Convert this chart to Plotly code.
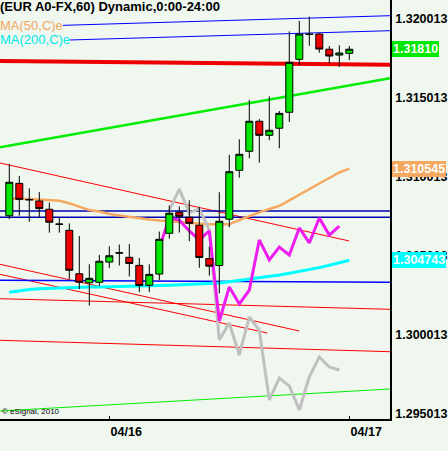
import plotly.graph_objects as go

# ---------------- data ----------------
candle_idx = list(range(35))
opens = [1.30756, 1.30961, 1.30859, 1.30849, 1.30797, 1.30704, 1.30664, 1.30389, 1.30332, 1.30335,
         1.30463, 1.30522, 1.30493, 1.30442, 1.30316, 1.30387, 1.30645, 1.30778, 1.30746, 1.30696,
         1.30485, 1.30441, 1.30734, 1.31044, 1.31164, 1.31354, 1.31265, 1.31310, 1.31411, 1.31746,
         1.31906, 1.31906, 1.31810, 1.31773, 1.31784]
highs = [1.31082, 1.31008, 1.30930, 1.30906, 1.30839, 1.30744, 1.30708, 1.30628, 1.30449, 1.30508,
         1.30563, 1.30574, 1.30577, 1.30489, 1.30449, 1.30656, 1.30821, 1.30815, 1.30854, 1.30813,
         1.30560, 1.30905, 1.31141, 1.31240, 1.31489, 1.31368, 1.31512, 1.31419, 1.31923, 1.31989,
         1.32016, 1.31913, 1.31830, 1.31835, 1.31830]
lows = [1.30734, 1.30756, 1.30718, 1.30746, 1.30649, 1.30649, 1.30356, 1.30291, 1.30187, 1.30311,
        1.30425, 1.30441, 1.30372, 1.30273, 1.30273, 1.30349, 1.30612, 1.30650, 1.30595, 1.30427,
        1.30377, 1.30265, 1.30683, 1.30997, 1.31120, 1.31092, 1.31234, 1.31183, 1.31349, 1.31710,
        1.31832, 1.31788, 1.31721, 1.31699, 1.31742]
closes = [1.30968, 1.30860, 1.30857, 1.30801, 1.30715, 1.30702, 1.30411, 1.30335, 1.30360, 1.30468,
          1.30503, 1.30520, 1.30454, 1.30315, 1.30385, 1.30607, 1.30772, 1.30753, 1.30708, 1.30492,
          1.30437, 1.30721, 1.31035, 1.31145, 1.31354, 1.31265, 1.31297, 1.31404, 1.31727, 1.31906,
          1.31904, 1.31811, 1.31767, 1.31786, 1.31810]

ma50 = [1.30864, 1.30864, 1.30862, 1.30859, 1.30856, 1.30851, 1.30835, 1.30811, 1.30792, 1.30783,
        1.30767, 1.30758, 1.30748, 1.30740, 1.30732, 1.30726, 1.30723, 1.30717, 1.30710, 1.30704,
        1.30702, 1.30702, 1.30702, 1.30729, 1.30755, 1.30777, 1.30799, 1.30818, 1.30853, 1.30887,
        1.30925, 1.30960, 1.30995, 1.31030, 1.310545]
ma200 = [1.302716, 1.302817, 1.302893, 1.302937, 1.302969, 1.302994, 1.303013, 1.303032, 1.303051, 1.303057,
         1.303064, 1.303076, 1.303095, 1.303114, 1.303127, 1.303139, 1.303165, 1.303190, 1.303222, 1.303241,
         1.303260, 1.303304, 1.303387, 1.303462, 1.303538, 1.303633, 1.303728, 1.303811, 1.303918, 1.304026,
         1.304127, 1.304279, 1.304424, 1.304583, 1.304743]

magenta_idx = list(range(15, 34))
magenta_vals = [1.30552, 1.30742, 1.30729, 1.30660, 1.30603, 1.30660, 1.30090, 1.30305, 1.30198, 1.30286,
                1.30603, 1.30476, 1.30558, 1.30508, 1.30679, 1.30584, 1.30742, 1.30634, 1.30691]
grey_idx = list(range(16, 34))
grey_vals = [1.30792, 1.30925, 1.30774, 1.30799, 1.30666, 1.29970, 1.30077, 1.29875, 1.30115, 1.30033,
             1.29590, 1.29729, 1.29679, 1.29527, 1.29736, 1.29862, 1.29799, 1.29780]

# trend lines: [x_start, x_end] in bar index, [price_start, price_end]
blue_top1_x, blue_top1_p = [-0.93, 38.07], [1.319494, 1.320222]
blue_top2_x, blue_top2_p = [-0.93, 38.07], [1.318557, 1.319273]
red_thick_x, red_thick_p = [-0.93, 38.07], [1.317355, 1.317114]
green_up_x, green_up_p = [-0.93, 38.07], [1.311893, 1.316260]
green_low_x, green_low_p = [-0.93, 38.07], [1.295203, 1.296595]
red_chan_x, red_chan_p = [-0.93, 34.0], [1.310899, 1.305962]
red_l1_x, red_l1_p = [-0.93, 29.0], [1.304488, 1.300266]
red_l2_x, red_l2_p = [-0.93, 25.8], [1.303855, 1.300140]
red_f1_x, red_f1_p = [-0.93, 38.07], [1.302311, 1.301640]
red_f2_x, red_f2_p = [-0.93, 38.07], [1.299678, 1.298956]
navy1_x, navy1_p = [-0.93, 38.07], [1.307861, 1.307861]
navy2_x, navy2_p = [-0.93, 38.07], [1.307462, 1.307462]
blue_low_x, blue_low_p = [-0.93, 38.07], [1.303475, 1.303349]

ytick_vals = [1.295013, 1.300013, 1.305013, 1.310013, 1.315013, 1.320013]
ytick_text = ["1.295013", "1.300013", "1.305013", "1.310013", "1.315013", "1.320013"]
xtick_vals = [10, 34]
xtick_text = ["04/16", "04/17"]

last_price = 1.31810
ma50_last = 1.310545
ma200_last = 1.304743

title_text = "(EUR A0-FX,60) Dynamic,0:00-24:00"
ma50_name = "MA(50,C)e"
ma200_name = "MA(200,C)e"

# ---------------- style ----------------
BG = "#eff7ef"
FONT = "Liberation Sans, Arial, sans-serif"
NARROW = "Liberation Sans Narrow, Arial Narrow, Liberation Sans, Arial, sans-serif"
X_RANGE = [-0.93, 38.07]
Y_RANGE = [1.294697, 1.3212155]
PLOT_H = 419.0

fig = go.Figure()


def add_line(xs, ys, color, width):
    fig.add_trace(go.Scatter(x=xs, y=ys, mode="lines", line=dict(color=color, width=width),
                             hoverinfo="skip", showlegend=False))


add_line(green_low_x, green_low_p, "#00ee00", 1)
add_line(red_f1_x, red_f1_p, "#ff0000", 1)
add_line(red_f2_x, red_f2_p, "#ff0000", 1)
add_line(red_l1_x, red_l1_p, "#ff0000", 1)
add_line(red_l2_x, red_l2_p, "#ff0000", 1)
add_line(red_chan_x, red_chan_p, "#ff0000", 1)
add_line(blue_low_x, blue_low_p, "#0000ff", 1.5)
add_line(navy1_x, navy1_p, "#0000b0", 1.5)
add_line(navy2_x, navy2_p, "#0000b0", 1.5)
add_line(blue_top1_x, blue_top1_p, "#0000ff", 1)
add_line(blue_top2_x, blue_top2_p, "#0000ff", 1)
add_line(green_up_x, green_up_p, "#00ee00", 2.5)
add_line(red_thick_x, red_thick_p, "#ee0000", 4)

add_line(candle_idx, ma200, "#00ffff", 3)
add_line(candle_idx, ma50, "#f4a860", 2.5)
add_line(grey_idx, grey_vals, "#c0c0c0", 3)
add_line(magenta_idx, magenta_vals, "#ee1cee", 3)

fig.add_trace(go.Candlestick(
    x=candle_idx, open=opens, high=highs, low=lows, close=closes,
    xaxis="x2", yaxis="y2",
    increasing=dict(fillcolor="#00e800", line=dict(color="black", width=1)),
    decreasing=dict(fillcolor="#ee0000", line=dict(color="black", width=1)),
    whiskerwidth=0, hoverinfo="skip", showlegend=False))

ann = []


def pix_to_paper(py):
    return 1 - py / PLOT_H


ann.append(dict(text="<b>" + title_text + "</b>", xref="paper", yref="paper", x=0, y=pix_to_paper(6.5),
                xanchor="left", yanchor="middle", showarrow=False,
                font=dict(family=FONT, size=13, color="black"), borderpad=0, borderwidth=0))
ann.append(dict(text=ma50_name, xref="paper", yref="paper", x=0, y=pix_to_paper(25),
                xanchor="left", yanchor="middle", showarrow=False, bgcolor=BG,
                font=dict(family=NARROW, size=13, color="#f4a860"), borderpad=0, borderwidth=0))
ann.append(dict(text=ma200_name, xref="paper", yref="paper", x=0, y=pix_to_paper(40),
                xanchor="left", yanchor="middle", showarrow=False, bgcolor=BG,
                font=dict(family=NARROW, size=13, color="#00e8e8"), borderpad=0, borderwidth=0))
ann.append(dict(text="\u00a9 eSignal, 2010", xref="paper", yref="paper", x=0.004, y=pix_to_paper(411.5),
                xanchor="left", yanchor="middle", showarrow=False,
                font=dict(family=FONT, size=8, color="black"), borderpad=0, borderwidth=0))

for val, txt, col in [(last_price, f"{last_price:.5f}", "#00e800"),
                      (ma50_last, f"{ma50_last:.6f}", "#f4a860"),
                      (ma200_last, f"{ma200_last:.6f}", "#00ffff")]:
    ann.append(dict(text="<b>" + txt + "</b>", xref="paper", yref="y", x=1 + 1.5 / 390, y=val,
                    xanchor="left", yanchor="middle", showarrow=False, bgcolor=col,
                    font=dict(family=FONT, size=12.5, color="white"), borderpad=1, borderwidth=0))

fig.update_layout(
    width=448, height=451,
    margin=dict(l=0, r=58, t=0, b=32),
    paper_bgcolor=BG, plot_bgcolor=BG,
    showlegend=False,
    boxgap=0.3, boxgroupgap=0,
    annotations=ann,
    xaxis=dict(range=X_RANGE, showgrid=False, zeroline=False, showline=True, linecolor="black",
               linewidth=1.5, tickmode="array", tickvals=xtick_vals, ticktext=xtick_text,
               ticks="inside", ticklen=3, tickcolor="black", ticklabelposition="outside right",
               tickfont=dict(family=FONT, size=12.5, color="black", weight="bold"),
               rangeslider=dict(visible=False), fixedrange=True),
    yaxis=dict(range=Y_RANGE, side="right", showgrid=False, zeroline=False, showline=True,
               linecolor="black", linewidth=1.5, tickmode="array", tickvals=ytick_vals,
               ticktext=ytick_text, ticks="", ticklabelstandoff=1,
               tickfont=dict(family=FONT, size=12.5, color="black", weight="bold"), fixedrange=True),
    xaxis2=dict(range=X_RANGE, overlaying="x", visible=False, rangeslider=dict(visible=False),
                fixedrange=True),
    yaxis2=dict(range=Y_RANGE, overlaying="y", visible=False, fixedrange=True),
)

fig.write_html("out.html", config={"displayModeBar": False},
               post_script="document.body.style.margin='0';document.body.style.padding='0';"
                           "document.body.style.background='" + BG + "';")
